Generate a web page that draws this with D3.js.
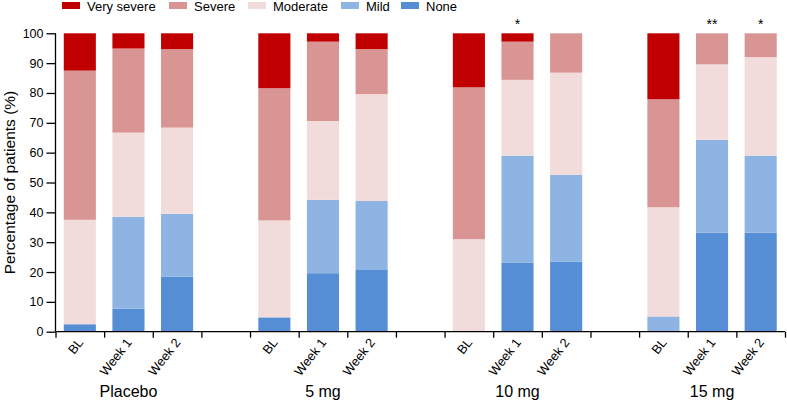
<!DOCTYPE html>
<html><head><meta charset="utf-8">
<script src="https://cdn.jsdelivr.net/npm/d3@7"></script>
<style>body{margin:0;background:#fff}svg{display:block}text{font-family:"Liberation Sans",Arial,sans-serif;fill:#000}</style>
</head><body><svg id="c" width="787" height="401"></svg>
<script>
const categories = ["P-BL","P-W1","P-W2","g1","5-BL","5-W1","5-W2","g2","10-BL","10-W1","10-W2","g3","15-BL","15-W1","15-W2"];
const catLabels = ["BL","Week 1","Week 2","","BL","Week 1","Week 2","","BL","Week 1","Week 2","","BL","Week 1","Week 2"];
const groups = ["Placebo","5 mg","10 mg","15 mg"];
const groupCenters = ["P-W1","5-W1","10-W1","15-W1"];
const severities = ["None","Mild","Moderate","Severe","Very severe"];
const legendOrder = ["Very severe","Severe","Moderate","Mild","None"];
const colors = {"Very severe":"#c00000","Severe":"#d99594","Moderate":"#f2dcdb","Mild":"#8eb4e3","None":"#558ed5"};
const noneVals      = [2.5, 7.7, 18.4, null, 4.8, 19.6, 20.9, null, 0, 23.2, 23.5, null, 0, 33.2, 33.2];
const mildVals      = [0, 30.8, 21.1, null, 0, 24.6, 22.9, null, 0, 35.8, 29.1, null, 5.1, 31.1, 25.8];
const moderateVals  = [35, 28.2, 28.9, null, 32.5, 26.4, 35.8, null, 31.0, 25.4, 34.2, null, 36.6, 25.3, 33.0];
const severeVals    = [50, 28.2, 26.3, null, 44.3, 26.6, 15.1, null, 50.9, 12.8, 13.2, null, 36.2, 10.4, 8.0];
const verySevereVals= [12.5, 5.1, 5.3, null, 18.4, 2.8, 5.3, null, 18.1, 2.8, 0, null, 22.1, 0, 0];
const sigLabels = ["","","","","","","","","","*","","","","**","*"];
const yTicks = [0,10,20,30,40,50,60,70,80,90,100];

const seriesVals = {"None":noneVals,"Mild":mildVals,"Moderate":moderateVals,"Severe":severeVals,"Very severe":verySevereVals};
const table = categories.map((c,i)=>{const o={cat:c}; severities.forEach(s=>o[s]=seriesVals[s][i]||0); o.gap = noneVals[i]===null; return o;});

const svg = d3.select("#c");
const mLeft=55.5, mRight=785, mTop=33.3, mBottom=331.7;
const x = d3.scaleBand().domain(categories).range([mLeft,mRight]).paddingInner(0).paddingOuter(0);
const xb = d3.scaleLinear().domain([0,categories.length]).range([mLeft,mRight]);
const y = d3.scaleLinear().domain([0,100]).range([mBottom,mTop]);
const barW = x.bandwidth()*0.66;

const stack = d3.stack().keys(severities)(table.filter(d=>!d.gap));
svg.append("g").selectAll("g").data(stack).join("g").attr("fill",d=>colors[d.key])
  .selectAll("rect").data(d=>d).join("rect")
  .attr("x",d=>x(d.data.cat)+(x.bandwidth()-barW)/2)
  .attr("width",barW)
  .attr("y",d=>y(d[1]))
  .attr("height",d=>Math.max(0,y(d[0])-y(d[1])));

// y axis
const ya = svg.append("g").attr("transform",`translate(${mLeft},0)`)
  .call(d3.axisLeft(y).tickValues(yTicks).tickSize(9).tickPadding(3));
ya.select(".domain").attr("stroke","#000").attr("stroke-width",1.3).attr("d",`M0,${y(100)}V${mBottom}`);
ya.selectAll(".tick line").attr("stroke","#000").attr("stroke-width",1.3);
ya.selectAll(".tick text").style("font-size","12.5px").style("font-family","Liberation Sans, Arial, sans-serif");

// x axis
const xa = svg.append("g").attr("transform",`translate(0,${mBottom})`)
  .call(d3.axisBottom(xb).tickValues(d3.range(0,categories.length+1)).tickSize(6).tickFormat(""));
xa.select(".domain").attr("stroke","#000").attr("stroke-width",1.3).attr("d",`M${mLeft},0H${mRight}`);
xa.selectAll(".tick line").attr("stroke","#000").attr("stroke-width",1.3);

// category labels
svg.append("g").selectAll("text").data(categories.map((c,i)=>({c,l:catLabels[i]})).filter(d=>d.l))
  .join("text")
  .attr("transform",d=>`translate(${x(d.c)+x.bandwidth()/2+4},${mBottom+11}) rotate(-52)`)
  .attr("text-anchor","end")
  .style("font-size","12.8px").text(d=>d.l);

// group labels
svg.append("g").selectAll("text").data(groups).join("text")
  .attr("x",(d,i)=>x(groupCenters[i])+x.bandwidth()/2)
  .attr("y",397).attr("text-anchor","middle").style("font-size","16px").text(d=>d);

// significance
svg.append("g").selectAll("text").data(categories.map((c,i)=>({c,s:sigLabels[i]})).filter(d=>d.s))
  .join("text")
  .attr("x",d=>x(d.c)+x.bandwidth()/2).attr("y",y(100)-4)
  .attr("text-anchor","middle").style("font-size","14px").text(d=>d.s);

// y title
svg.append("text").attr("transform",`translate(10,${(mTop+mBottom)/2}) rotate(-90)`)
  .attr("text-anchor","middle").attr("dy","0.35em").style("font-size","15.5px").text("Percentage of patients (%)");

// legend
const legX = [62,169,248,341,401];
const lg = svg.append("g").selectAll("g").data(legendOrder).join("g")
  .attr("transform",(d,i)=>`translate(${legX[i]},0)`);
lg.append("rect").attr("x",0).attr("y",2).attr("width",18).attr("height",7).attr("fill",d=>colors[d]);
lg.append("text").attr("x",25).attr("y",10.5).style("font-size","13px").text(d=>d);
</script></body></html>
